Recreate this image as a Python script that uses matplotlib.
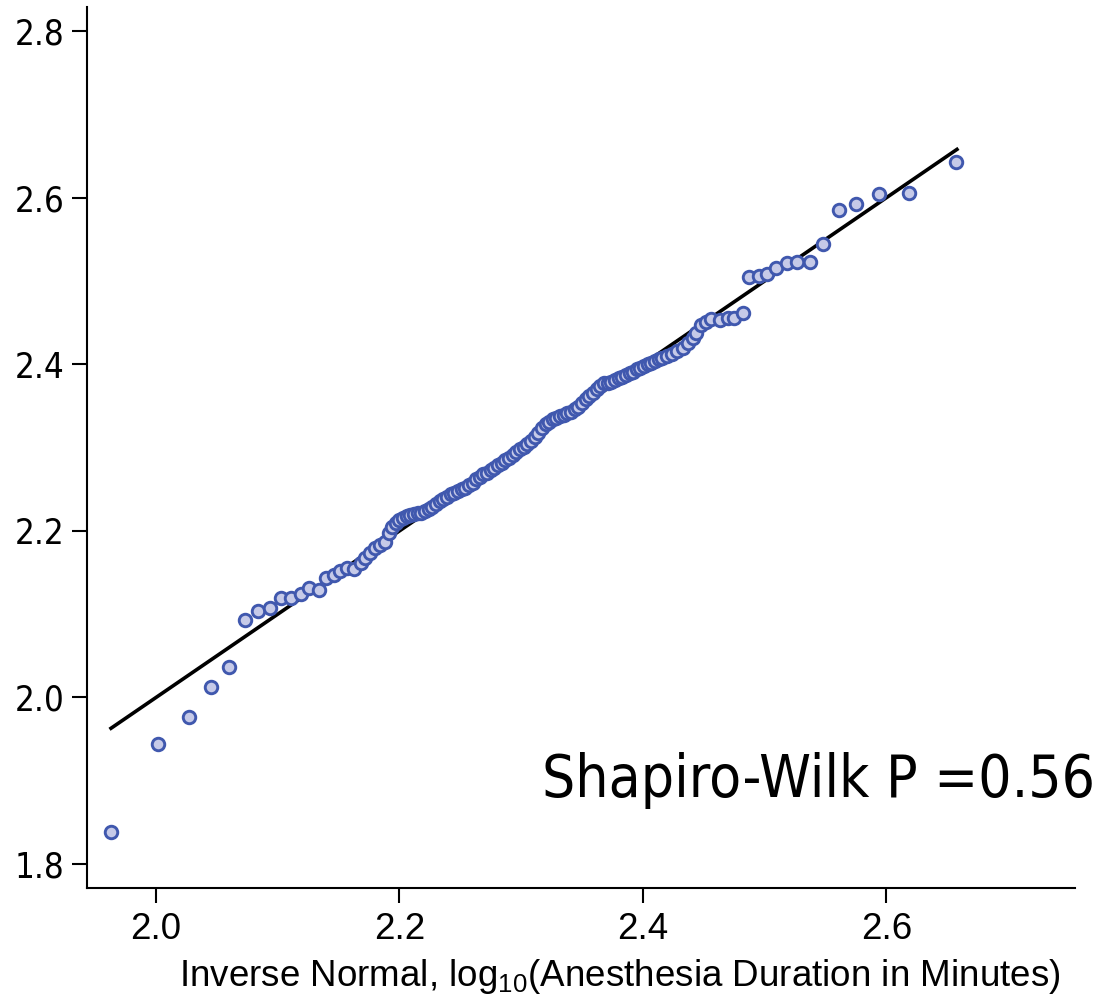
import matplotlib
matplotlib.use("Agg")
import matplotlib.pyplot as plt

# ---- data ----
theoretical = [
    1.963, 2.002, 2.027, 2.045, 2.060, 2.073, 2.084, 2.094, 2.103, 2.111,
    2.119, 2.126, 2.134, 2.140, 2.146, 2.151, 2.157, 2.163, 2.168, 2.172,
    2.176, 2.180, 2.184, 2.188, 2.191, 2.194, 2.197, 2.200, 2.203, 2.206,
    2.209, 2.212, 2.215, 2.218, 2.221, 2.224, 2.227, 2.230, 2.233, 2.236,
    2.239, 2.242, 2.245, 2.248, 2.251, 2.254, 2.257, 2.260, 2.263, 2.266,
    2.269, 2.272, 2.275, 2.278, 2.281, 2.284, 2.287, 2.290, 2.293, 2.296,
    2.299, 2.302, 2.305, 2.308, 2.311, 2.314, 2.317, 2.320, 2.323, 2.326,
    2.329, 2.332, 2.335, 2.338, 2.341, 2.344, 2.347, 2.350, 2.353, 2.356,
    2.359, 2.362, 2.365, 2.368, 2.371, 2.374, 2.377, 2.380, 2.383, 2.386,
    2.389, 2.392, 2.395, 2.398, 2.401, 2.404, 2.407, 2.410, 2.413, 2.416,
    2.420, 2.424, 2.428, 2.433, 2.437, 2.441, 2.444, 2.448, 2.452, 2.456,
    2.463, 2.470, 2.475, 2.482, 2.487, 2.495, 2.502, 2.509, 2.518, 2.527,
    2.537, 2.548, 2.561, 2.575, 2.594, 2.619, 2.657,
]
observed = [
    1.838, 1.944, 1.977, 2.012, 2.037, 2.093, 2.104, 2.107, 2.120, 2.120,
    2.124, 2.131, 2.129, 2.143, 2.147, 2.152, 2.156, 2.154, 2.161, 2.168,
    2.174, 2.180, 2.183, 2.187, 2.198, 2.205, 2.210, 2.213, 2.216, 2.218,
    2.219, 2.220, 2.221, 2.222, 2.224, 2.226, 2.229, 2.232, 2.236, 2.238,
    2.241, 2.244, 2.246, 2.248, 2.250, 2.252, 2.255, 2.258, 2.262, 2.265,
    2.268, 2.270, 2.273, 2.276, 2.279, 2.282, 2.285, 2.288, 2.291, 2.295,
    2.298, 2.301, 2.304, 2.308, 2.313, 2.318, 2.323, 2.328, 2.331, 2.334,
    2.336, 2.338, 2.339, 2.341, 2.343, 2.346, 2.349, 2.353, 2.358, 2.362,
    2.366, 2.370, 2.374, 2.377, 2.378, 2.379, 2.381, 2.383, 2.385, 2.387,
    2.389, 2.391, 2.394, 2.396, 2.398, 2.400, 2.402, 2.404, 2.406, 2.408,
    2.410, 2.412, 2.416, 2.420, 2.425, 2.431, 2.438, 2.447, 2.451, 2.454,
    2.453, 2.456, 2.456, 2.462, 2.505, 2.506, 2.508, 2.516, 2.522, 2.523,
    2.523, 2.545, 2.585, 2.592, 2.604, 2.606, 2.643,
]
ref_line = [1.963, 2.658]

x_ticks = [2.0, 2.2, 2.4, 2.6]
y_ticks = [1.8, 2.0, 2.2, 2.4, 2.6, 2.8]
x_label = "Inverse Normal, log$_{10}$(Anesthesia Duration in Minutes)"
annotation = "Shapiro-Wilk P =0.56"

# ---- style ----
plt.rcParams["mathtext.fontset"] = "custom"
plt.rcParams["mathtext.rm"] = "Liberation Sans"
plt.rcParams["mathtext.it"] = "Liberation Sans"

fig = plt.figure(figsize=(11.11, 9.97), dpi=100)
ax = fig.add_axes([0.078, 0.1093, 0.8896, 0.8837])

ax.plot(ref_line, ref_line, color="black", lw=2.6, zorder=1)
ax.plot(theoretical, observed, ls="none", marker="o", ms=9, mew=2.1,
        mfc="#c6cae8", mec="#4058ae", zorder=2)

ax.set_xlim(1.943, 2.755)
ax.set_ylim(1.7712, 2.829)
ax.set_xticks(x_ticks)
ax.set_xticklabels([f"{v:.1f}" for v in x_ticks], fontfamily="Liberation Sans", fontsize=26.5)
ax.set_yticks(y_ticks)
ax.set_yticklabels([f"{v:.1f}" for v in y_ticks], fontfamily="DejaVu Sans",
                   fontstretch="condensed", fontsize=25)
ax.tick_params(axis="both", direction="out", length=10.8, width=1.5, color="black")
ax.tick_params(axis="x", pad=6.5)
ax.tick_params(axis="y", pad=5)

for side in ["top", "right"]:
    ax.spines[side].set_visible(False)
for side in ["left", "bottom"]:
    ax.spines[side].set_linewidth(1.5)

fig.text(620 / 1111, 1 - 986 / 997, x_label, ha="center", va="baseline",
         fontfamily="Liberation Sans", fontsize=26.5)

fig.text(1095 / 1111, 1 - 797 / 997, annotation, ha="right", va="baseline",
         fontfamily="DejaVu Sans", fontstretch="condensed", fontsize=42)

fig.savefig("out.png", dpi=100)
